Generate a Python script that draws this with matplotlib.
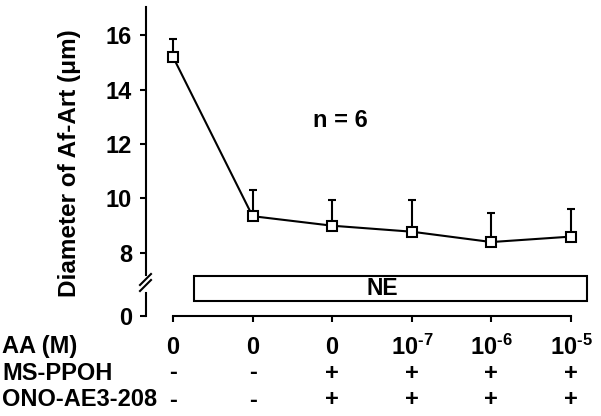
import matplotlib
matplotlib.use("Agg")
import matplotlib.pyplot as plt
from matplotlib.lines import Line2D
from matplotlib.patches import Rectangle
import numpy as np

plt.rcParams['font.family'] = ['Liberation Sans', 'DejaVu Sans']
plt.rcParams['font.weight'] = 'bold'
plt.rcParams['mathtext.fontset'] = 'custom'
plt.rcParams['mathtext.rm'] = 'Liberation Sans'
plt.rcParams['mathtext.bf'] = 'Liberation Sans:bold'

# datos
diameter = [15.2, 9.35, 9.0, 8.78, 8.4, 8.6]
sem = [0.65, 0.95, 0.95, 1.15, 1.07, 1.0]
aa_labels = ['0', '0', '0', r'$\mathbf{10^{‐7}}$', r'$\mathbf{10^{‐6}}$', r'$\mathbf{10^{‐5}}$']
ms_ppoh = ['-', '-', '+', '+', '+', '+']
ono = ['-', '-', '+', '+', '+', '+']
row_names = ['AA (M)', 'MS-PPOH', 'ONO-AE3-208']
y_ticks = [8, 10, 12, 14, 16]

FS = 17
W, H = 601, 416
fig = plt.figure(figsize=(W / 100, H / 100), dpi=100)

def fx(px):
    return px / W

def fy(py):
    return 1 - py / H

x = np.arange(len(diameter))
xlim = (-0.339, 5.239)

# eje superior (valores)
ax = fig.add_axes([fx(146), fy(275), fx(590) - fx(146), fy(7) - fy(275)])
ax.set_xlim(*xlim)
ax.set_ylim(7.19, 17.03)
ax.errorbar(x, diameter, yerr=[np.zeros(len(sem)), sem], fmt='none',
            ecolor='black', elinewidth=1.5, capsize=3, capthick=1.5, zorder=2)
ax.plot(x, diameter, color='black', lw=1.5, marker='s', ms=7.5,
        mfc='white', mec='black', mew=1.5, zorder=3)
ax.set_yticks(y_ticks)
ax.set_xticks([])
for s in ['top', 'right', 'bottom']:
    ax.spines[s].set_visible(False)
ax.spines['left'].set_linewidth(1.5)
ax.tick_params(axis='y', direction='out', length=4, width=1.5, pad=6, labelsize=FS)
ax.patch.set_alpha(0)
ax.text(2.1, 12.85, 'n = 6', fontsize=FS, fontweight='bold', ha='center', va='center')

# eje inferior (cero y barra NE)
ax2 = fig.add_axes([fx(146), fy(316), fx(590) - fx(146), fy(270) - fy(316)])
ax2.set_xlim(*xlim)
ax2.set_ylim(0, 1)
ax2.patch.set_alpha(0)
for s in ['top', 'right']:
    ax2.spines[s].set_visible(False)
ax2.spines['left'].set_bounds(0, 0.5)
ax2.spines['bottom'].set_bounds(0, 5)
ax2.spines['left'].set_linewidth(1.5)
ax2.spines['bottom'].set_linewidth(1.5)
ax2.set_yticks([0])
ax2.set_xticks(x)
ax2.set_xticklabels([])
ax2.tick_params(axis='both', direction='out', length=4, width=1.5, pad=6, labelsize=FS)
ax2.add_patch(Rectangle((0.264, 0.326), 5.2 - 0.264, 0.87 - 0.326,
                        facecolor='white', edgecolor='black', lw=1.5, clip_on=False))
ax2.text(2.63, 0.6, 'NE', fontsize=16.5, fontweight='bold', ha='center', va='center')

# marcas de corte del eje
for dy in (0, 6):
    fig.add_artist(Line2D([fx(140), fx(151)], [fy(291 + dy - 6), fy(280 + dy - 6)],
                          color='black', lw=1.5))

fig.text(fx(70), fy(163), 'Diameter of Af-Art (μm)', rotation=90, fontsize=17.5,
         fontweight='bold', ha='center', va='center')

# tabla de tratamientos
rows_y = [347, 373, 400]
for name, yy in zip(row_names, rows_y):
    fig.text(fx(2), fy(yy), name, fontsize=FS, fontweight='bold', ha='left', va='center')
trans = matplotlib.transforms.blended_transform_factory(ax2.transData, fig.transFigure)
for i in x:
    ax2.text(i, fy(rows_y[0]), aa_labels[i], transform=trans, fontsize=FS,
             fontweight='bold', ha='center', va='center')
    ax2.text(i, fy(rows_y[1]), ms_ppoh[i], transform=trans, fontsize=FS,
             fontweight='bold', ha='center', va='center')
    ax2.text(i, fy(rows_y[2]), ono[i], transform=trans, fontsize=FS,
             fontweight='bold', ha='center', va='center')

fig.savefig('out.png', dpi=100)
